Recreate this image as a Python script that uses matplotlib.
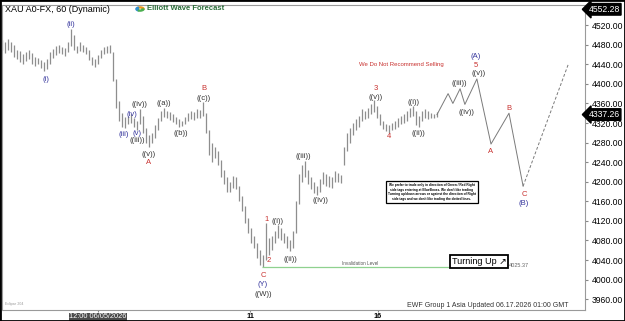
import matplotlib.pyplot as plt
from matplotlib.patches import Rectangle, Wedge

plt.rcParams['font.family'] = ['Liberation Sans', 'DejaVu Sans']

# hourly-ish bars (every 2h)
highs = [4490, 4485, 4492, 4486, 4480, 4470, 4468, 4460, 4466, 4470,
         4462, 4455, 4452, 4448, 4445, 4450, 4465, 4472, 4478, 4480,
         4476, 4474, 4485, 4512, 4500, 4478, 4485, 4480, 4476, 4470,
         4455, 4450, 4458, 4470, 4475, 4478, 4480, 4465, 4410, 4365,
         4340, 4332, 4335, 4338, 4330, 4325, 4348, 4335, 4310, 4295,
         4300, 4315, 4330, 4345, 4350, 4345, 4342, 4338, 4333, 4328,
         4325, 4332, 4340, 4345, 4342, 4348, 4346, 4362, 4340, 4305,
         4280, 4270, 4262, 4245, 4225, 4210, 4200, 4212, 4210, 4192,
         4170, 4150, 4125, 4105, 4090, 4075, 4060, 4050, 4115, 4085,
         4090, 4100, 4112, 4105, 4095, 4090, 4080, 4100, 4160, 4215,
         4235, 4243, 4225, 4210, 4200, 4192, 4205, 4220, 4215, 4212,
         4210, 4222, 4218, 4214, 4270, 4300, 4310, 4320, 4328, 4335,
         4348, 4345, 4350, 4358, 4366, 4355, 4338, 4325, 4318, 4315,
         4320, 4325, 4330, 4335, 4338, 4345, 4350, 4355, 4345, 4335,
         4345, 4348, 4344, 4340, 4338, 4342]
lows = [4470, 4462, 4470, 4465, 4455, 4450, 4445, 4440, 4447, 4450,
        4440, 4436, 4440, 4432, 4426, 4430, 4440, 4452, 4458, 4462,
        4460, 4456, 4465, 4478, 4470, 4462, 4468, 4466, 4460, 4448,
        4438, 4435, 4440, 4452, 4460, 4462, 4462, 4405, 4350, 4325,
        4312, 4310, 4318, 4320, 4312, 4305, 4318, 4300, 4280, 4270,
        4280, 4290, 4305, 4325, 4332, 4330, 4326, 4322, 4318, 4312,
        4313, 4318, 4325, 4328, 4326, 4330, 4330, 4335, 4300, 4255,
        4240, 4248, 4235, 4210, 4195, 4180, 4180, 4188, 4185, 4160,
        4140, 4115, 4095, 4075, 4065, 4045, 4030, 4025, 4040, 4050,
        4060, 4075, 4085, 4080, 4075, 4065, 4058, 4065, 4095, 4155,
        4200, 4210, 4195, 4185, 4178, 4172, 4180, 4195, 4192, 4190,
        4188, 4200, 4200, 4198, 4235, 4262, 4280, 4295, 4305, 4312,
        4325, 4328, 4330, 4338, 4342, 4330, 4315, 4308, 4303, 4300,
        4305, 4308, 4312, 4318, 4320, 4325, 4332, 4335, 4315, 4312,
        4325, 4330, 4328, 4330, 4330, 4333]
bar_x = list(range(len(highs)))

# projected path (solid) and final leg (dashed)
proj_x = [145, 148.7, 150.3, 152.7, 154.3, 158.3, 163, 169, 173.7]
proj_y = [4337, 4380, 4360, 4390, 4358, 4410, 4277, 4340, 4191]
dash_x = [173.7, 188.7]
dash_y = [4191, 4439]

# wave labels: text, x, price, colour
blue = '#34349c'
red = '#c8312f'
dark = '#333333'
waves = [
    ('(i)', 14.7, 4408, blue), ('(ii)', 23, 4522, blue),
    ('(iii)', 40.7, 4296, blue), ('(iv)', 43.3, 4337, blue),
    ('(v)', 45, 4299, blue), ('((iii))', 45, 4285, dark),
    ('((iv))', 46, 4357, dark), ('((v))', 49, 4255, dark),
    ('A', 49, 4239, red), ('((a))', 54, 4360, dark),
    ('((b))', 59.7, 4299, dark), ('((c))', 67.3, 4370, dark),
    ('B', 67.3, 4390, red), ('1', 88.3, 4122, red),
    ('((i))', 92, 4118, dark), ('2', 89, 4040, red),
    ('((ii))', 96, 4041, dark), ('C', 87, 4009, red),
    ('(Y)', 87, 3991, blue), ('((W))', 87, 3970, dark),
    ('((iii))', 100.3, 4252, dark), ('((iv))', 106, 4161, dark),
    ('((v))', 124.7, 4372, dark), ('3', 124.7, 4390, red),
    ('4', 129, 4293, red), ('((i))', 137.3, 4362, dark),
    ('((ii))', 138.7, 4299, dark), ('((iii))', 152.3, 4400, dark),
    ('((iv))', 154.7, 4342, dark), ('(A)', 158, 4455, blue),
    ('5', 158, 4437, red), ('((v))', 158.7, 4421, dark),
    ('A', 163, 4262, red), ('B', 169, 4350, red),
    ('C', 174, 4173, red), ('(B)', 174, 4155, blue),
]

yticks = list(range(3960, 4521, 40))
xtick_pos = [32, 82.7, 125.3]
xtick_lbl = ['12:00 06/05/2026', '11', '16']
last_price = 4337.26
top_price = 4552.28
invalid = 4025.37

fig = plt.figure(figsize=(6.25, 3.21), dpi=100)
ax = fig.add_axes([0.003, 0.0343, 0.933, 0.950])
ax.set_xlim(0, 194.33)
ax.set_ylim(3938, 4561)

ax.vlines(bar_x, lows, highs, color='#8e8e8e', lw=0.9)
ax.plot(proj_x, proj_y, color='#7a7a7a', lw=0.7)
ax.plot(dash_x, dash_y, color='#7a7a7a', lw=0.7, ls=(0, (3, 2)))

for t, x, y, c in waves:
    ax.text(x, y, t, color=c, fontsize=5.5, ha='center', va='center')

# invalidation level
ax.hlines(invalid, 86.7, 168.7, color='#8fd18f', lw=0.9)
ax.text(119.3, invalid + 3, 'Invalidation Level', fontsize=3.3, color='#555555',
        ha='center', va='bottom')
ax.text(169, invalid + 4, '4025.37', fontsize=4, color='#666666', va='center')

ax.text(133, 4439, 'We Do Not Recommend Selling', color=red, fontsize=4.3,
        ha='center', va='center')

note = ("We prefer to trade only in direction of Green / Red Right\n"
        "side tags entering at BlueBoxes. We don't like trading\n"
        "Turning up/down arrows or against the direction of Right\n"
        "side tags and we don't like trading the dotted lines.")
ax.text(143.3, 4179, note, fontsize=2.3, fontweight='bold', linespacing=1.3,
        ha='center', va='center',
        bbox=dict(facecolor='white', edgecolor='black', lw=0.9, pad=1.2))

ax.text(159, 4037, 'Turning Up \u2197', fontsize=6.5, ha='center', va='center',
        family=['Liberation Sans', 'DejaVu Sans'],
        bbox=dict(facecolor='white', edgecolor='black', lw=1.3, pad=1.5))

ax.text(162, 3948, 'EWF Group 1 Asia Updated 06.17.2026 01:00 GMT',
        fontsize=5, color='#333333', ha='center', va='center')

# axes look
for s in ax.spines.values():
    s.set_color('#9a9a9a')
    s.set_linewidth(0.8)
ax.yaxis.tick_right()
ax.set_yticks(yticks)
ax.set_yticklabels(['%.2f' % v for v in yticks], fontsize=6.2)
ax.tick_params(axis='y', length=2, pad=3, color='#888888')
ax.set_xticks(xtick_pos)
ax.set_xticklabels(xtick_lbl, fontsize=5.3, fontweight='bold')
ax.tick_params(axis='x', length=1.5, pad=0.8, color='#888888')
for lbl in ax.get_xticklabels():
    if lbl.get_text().startswith('12:00'):
        lbl.set_color('white')
        lbl.set_fontweight('normal')
        lbl.set_bbox(dict(facecolor='#4a4a4a', edgecolor='none', pad=0.4))

# price tags on the right axis
tr = ax.get_yaxis_transform()
for p in [last_price, top_price]:
    ax.text(1.006, p, '%.2f' % p, transform=tr, fontsize=6.2, color='white',
            va='center', ha='left', clip_on=False,
            bbox=dict(boxstyle='larrow,pad=0.15', facecolor='black', edgecolor='black'))

# header
fig.text(5 / 625, 1 - 9 / 321, 'XAU A0-FX, 60 (Dynamic)', fontsize=6.5, va='center')
fig.text(147 / 625, 1 - 9 / 321, 'Elliott Wave Forecast', fontsize=5.5,
         fontweight='bold', color='#2b6e3a', va='center')
cx, cy = 140 / 625, 1 - 9 / 321
for th1, th2, col in [(0, 120, '#f29a1f'), (120, 240, '#2f8fd0'), (240, 360, '#4caf50')]:
    fig.patches.append(Wedge((cx, cy), 0.0065, th1, th2, width=0.003,
                             transform=fig.transFigure, color=col))
fig.text(5 / 625, 1 - 305 / 321, 'Eclipse 204', fontsize=2.5, color='#999999')

# black frame around the picture
fig.patches.append(Rectangle((0, 0), 1, 1, transform=fig.transFigure,
                             fill=False, edgecolor='black', lw=2))

plt.savefig('out.png', dpi=100)
